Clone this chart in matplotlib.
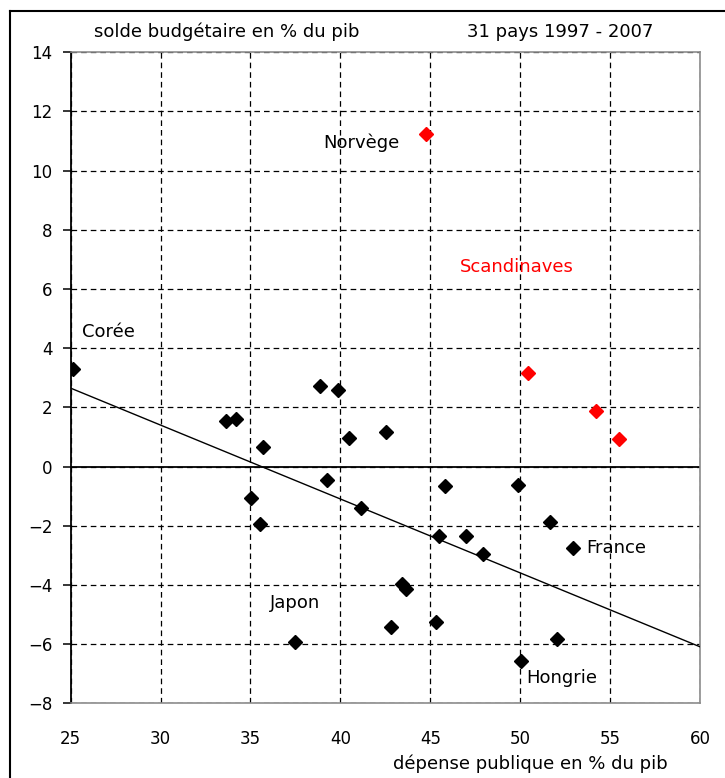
import matplotlib
matplotlib.use("Agg")
import matplotlib.pyplot as plt
from matplotlib.lines import Line2D

plt.rcParams['font.family'] = ['DejaVu Sans']

# Public spending (% of GDP) and budget balance (% of GDP), 1997-2007 averages
spend_other = [25.14, 33.64, 34.18, 38.87, 39.89, 35.72, 40.49, 42.54, 39.24,
               35.01, 41.15, 35.53, 45.81, 49.85, 45.49, 47.00, 47.91, 51.63,
               52.91, 43.45, 43.64, 42.84, 45.33, 37.50, 52.04, 50.06]
balance_other = [3.29, 1.54, 1.60, 2.72, 2.59, 0.65, 0.96, 1.18, -0.46,
                 -1.05, -1.41, -1.94, -0.65, -0.63, -2.35, -2.34, -2.94, -1.87,
                 -2.75, -3.97, -4.15, -5.41, -5.26, -5.92, -5.82, -6.56]

spend_scand = [44.77, 50.43, 54.21, 55.49]
balance_scand = [11.23, 3.17, 1.89, 0.94]

# Fitted trend line end points
trend_x = [25, 60]
trend_y = [2.65, -6.09]

x_ticks = [25, 30, 35, 40, 45, 50, 55, 60]
y_ticks = [-8, -6, -4, -2, 0, 2, 4, 6, 8, 10, 12, 14]

country_labels = [
    ("Corée", 25.61, 4.56, "black"),
    ("Norvège", 39.03, 10.95, "black"),
    ("Scandinaves", 46.65, 6.76, "red"),
    ("Japon", 36.08, -4.62, "black"),
    ("France", 53.70, -2.76, "black"),
    ("Hongrie", 50.36, -7.15, "black"),
]

W, H = 725, 778
fig = plt.figure(figsize=(W / 100, H / 100), dpi=100)
ax = fig.add_axes([70.7 / W, 1 - 703.3 / H, (700 - 70.7) / W, (703.3 - 52.3) / H])

ax.set_xlim(25, 60)
ax.set_ylim(-8, 14)
ax.set_xticks(x_ticks)
ax.set_yticks(y_ticks)

ax.grid(True, color="black", linestyle=(0, (4.5, 3.2)), linewidth=0.9)
ax.set_axisbelow(True)

ax.axhline(0, color="black", linewidth=1.3, zorder=2)
ax.plot(trend_x, trend_y, color="black", linewidth=1.0, zorder=3)

ax.plot(spend_other, balance_other, linestyle="none", marker="D",
        markersize=7.2, color="black", zorder=4)
ax.plot(spend_scand, balance_scand, linestyle="none", marker="D",
        markersize=7.2, color="#ff0000", zorder=4)

for text, x, y, col in country_labels:
    ax.text(x, y, text, color=col, fontsize=13, ha="left", va="center")

for side in ("top", "right", "bottom"):
    ax.spines[side].set_color("#8c8c8c")
    ax.spines[side].set_linewidth(1.2)
ax.spines["left"].set_color("black")
ax.spines["left"].set_linewidth(1.3)

ax.tick_params(axis="y", direction="out", length=6, width=1.1, pad=7,
               labelsize=12)
ax.tick_params(axis="x", length=0, pad=19, labelsize=12)

fig.text(94 / W, 1 - 32 / H, "solde budgétaire en % du pib",
         fontsize=13, ha="left", va="center")
fig.text(653 / W, 1 - 32 / H, "31 pays 1997 - 2007",
         fontsize=13, ha="right", va="center")
fig.text(530 / W, 1 - 764 / H, "dépense publique en % du pib",
         fontsize=13, ha="center", va="center")

# Outer frame (left and top edges)
fig.add_artist(Line2D([10 / W, 10 / W], [0, 1 - 11 / H], transform=fig.transFigure,
                      color="black", linewidth=1.5))
fig.add_artist(Line2D([10 / W, 1], [1 - 11 / H, 1 - 11 / H], transform=fig.transFigure,
                      color="black", linewidth=1.5))

fig.savefig("out.png", dpi=100)
